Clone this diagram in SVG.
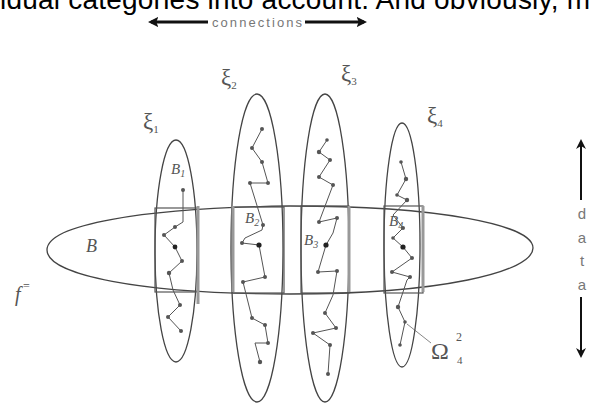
<svg xmlns="http://www.w3.org/2000/svg" width="591" height="403" viewBox="0 0 591 403">
<defs>
<marker id="ah" viewBox="0 0 10 10" refX="7" refY="5" markerWidth="3.5" markerHeight="4.5" orient="auto-start-reverse" markerUnits="strokeWidth">
<path d="M0,0 L10,5 L0,10 L2,5 Z" fill="#111"/>
</marker>
<marker id="ah2" viewBox="0 0 10 10" refX="8" refY="5" markerWidth="5" markerHeight="7" orient="auto-start-reverse" markerUnits="strokeWidth">
<path d="M0,0 L10,5 L0,10 L3,5 Z" fill="#111"/>
</marker>
</defs>
<style>
.sh{fill:none;stroke:#444;stroke-width:1.3}
.band{fill:none;stroke:#555;stroke-width:1.2}
.thick{stroke:#999;stroke-width:3}
.walk{fill:none;stroke:#555;stroke-width:1}
.d{fill:#555}
.bd{fill:#222}
.lab{font-family:"Liberation Serif",serif;font-style:italic;fill:#555}
.gr{font-family:"Liberation Serif",serif;fill:#555}
.sans{font-family:"Liberation Sans",Arial,sans-serif;fill:#777}
</style>
<rect width="591" height="403" fill="#fff"/>
<text x="0" y="9" font-family="Liberation Sans, Arial, sans-serif" font-size="28" fill="#000" textLength="590">idual categories into account. And obviously, m</text>

<g id="connectors">
<line x1="151" y1="22" x2="208" y2="22" stroke="#111" stroke-width="3" marker-start="url(#ah)"/>
<line x1="305" y1="22" x2="364" y2="22" stroke="#111" stroke-width="3" marker-end="url(#ah)"/>
<text class="sans" x="212" y="27" font-size="13" textLength="90">connections</text>
<line x1="581" y1="141" x2="581" y2="200" stroke="#111" stroke-width="2" marker-start="url(#ah2)"/>
<line x1="581" y1="297" x2="581" y2="356" stroke="#111" stroke-width="2" marker-end="url(#ah2)"/>
<g class="sans" font-size="15" text-anchor="middle" fill="#666">
<text x="582" y="219">d</text>
<text x="582" y="243">a</text>
<text x="582" y="266">t</text>
<text x="582" y="290">a</text>
</g>
<line x1="407" y1="324" x2="431" y2="343" stroke="#888" stroke-width="1"/>
</g>

<g id="nodeB">
<path class="sh" d="M47,250 C47,225 140,208 290,206 C440,206 533,225 533,248 C533,272 440,294 290,294 C140,294 47,275 47,250 Z"/>
<text class="lab" x="86" y="252" font-size="18">B</text>
</g>

<g id="xi1">
<ellipse class="sh" cx="176" cy="251" rx="21" ry="111"/>
<rect class="band" x="155" y="208" width="43" height="84"/>
<line class="thick" x1="198" y1="206" x2="198" y2="304"/>
<polyline class="walk" points="183,190 183,222 175,227 164,235 175,247 182,261 169,273 173,290 180,305 168,317 181,331"/>
<g class="d"><circle cx="183" cy="190" r="2"/><circle cx="175" cy="227" r="2"/><circle cx="164" cy="235" r="2"/><circle class="bd" cx="175" cy="247" r="2.4"/><circle cx="182" cy="261" r="2"/><circle cx="169" cy="273" r="2.2"/><circle cx="180" cy="305" r="2"/><circle cx="168" cy="317" r="2"/><circle cx="181" cy="331" r="2"/></g>
<text class="lab" x="171" y="174" font-size="15">B<tspan font-size="10" dy="3">1</tspan></text>
<text class="gr" x="143" y="129" font-size="23">ξ<tspan font-size="11" dy="4">1</tspan></text>
</g>

<g id="xi2">
<ellipse class="sh" cx="257" cy="248" rx="26" ry="154"/>
<rect class="band" x="232" y="207" width="52" height="86"/>
<line class="thick" x1="233" y1="206" x2="233" y2="292"/>
<polyline class="walk" points="262,129 252,148 262,162 268,183 250,183 263,225 262,230 245,238 242,243 259,245 265,277 243,282 252,318 265,325 268,343 255,343 260,362"/>
<g class="d"><circle cx="262" cy="129" r="2"/><circle cx="252" cy="148" r="2"/><circle cx="262" cy="162" r="2"/><circle cx="268" cy="183" r="2"/><circle cx="250" cy="183" r="2"/><circle cx="263" cy="225" r="2"/><circle cx="242" cy="243" r="2"/><circle class="bd" cx="259" cy="245" r="2.6"/><circle cx="265" cy="277" r="2"/><circle cx="243" cy="282" r="2"/><circle cx="252" cy="318" r="2"/><circle cx="265" cy="325" r="2"/><circle cx="268" cy="343" r="2"/><circle cx="260" cy="362" r="2.2"/></g>
<text class="lab" x="245" y="223" font-size="15">B<tspan font-size="10" dy="3">2</tspan></text>
<text class="gr" x="221" y="85" font-size="23">ξ<tspan font-size="11" dy="4">2</tspan></text>
</g>

<g id="xi3">
<ellipse class="sh" cx="325" cy="248" rx="24" ry="154"/>
<rect class="band" x="301" y="206" width="48" height="87"/>
<line class="thick" x1="349" y1="206" x2="349" y2="292"/>
<polyline class="walk" points="327,140 319,152 330,160 319,177 333,185 319,222 337,218 333,233 326,245 318,272 337,271 333,295 325,313 336,328 313,333 330,345 328,374"/>
<g class="d"><circle cx="327" cy="140" r="1.8"/><circle cx="319" cy="152" r="2.2"/><circle cx="330" cy="160" r="2"/><circle cx="319" cy="177" r="2"/><circle cx="333" cy="185" r="2"/><circle cx="319" cy="222" r="2"/><circle cx="337" cy="218" r="2"/><circle class="bd" cx="326" cy="245" r="2.6"/><circle cx="318" cy="272" r="2"/><circle cx="337" cy="271" r="2"/><circle cx="325" cy="313" r="2"/><circle cx="336" cy="328" r="2"/><circle cx="313" cy="333" r="2"/><circle cx="330" cy="345" r="2"/><circle cx="328" cy="374" r="2"/></g>
<text class="lab" x="304" y="245" font-size="15">B<tspan font-size="10" dy="3">3</tspan></text>
<text class="gr" x="341" y="81" font-size="23">ξ<tspan font-size="11" dy="4">3</tspan></text>
</g>

<g id="xi4">
<ellipse class="sh" cx="402" cy="245" rx="18" ry="122"/>
<rect class="band" x="384" y="206" width="39" height="87"/>
<line class="thick" x1="423" y1="206" x2="423" y2="292"/>
<polyline class="walk" points="401,162 406,179 397,195 407,200 393,215 403,228 393,238 403,247 412,258 392,272 410,277 407,280 398,307 405,322 400,345"/>
<g class="d"><circle cx="401" cy="162" r="1.8"/><circle cx="406" cy="179" r="2.2"/><circle cx="397" cy="195" r="1.8"/><circle cx="407" cy="200" r="2.2"/><circle cx="403" cy="228" r="2"/><circle cx="393" cy="238" r="1.8"/><circle class="bd" cx="403" cy="247" r="2.6"/><circle cx="412" cy="258" r="2"/><circle cx="392" cy="272" r="2"/><circle cx="410" cy="277" r="2"/><circle cx="398" cy="307" r="2.2"/><circle cx="405" cy="322" r="1.8"/><circle cx="400" cy="345" r="1.8"/></g>
<text class="lab" x="389" y="226" font-size="15">B<tspan font-size="10" dy="3">4</tspan></text>
<text class="gr" x="427" y="123" font-size="23">ξ<tspan font-size="11" dy="4">4</tspan></text>
<text class="gr" x="431" y="359" font-size="24">Ω</text>
<text class="gr" x="456" y="341" font-size="12">2</text>
<text class="gr" x="457" y="364" font-size="11">4</text>
</g>

<g id="flabel">
<text class="lab" x="15" y="301" font-size="20">f</text>
<text class="gr" x="23" y="290" font-size="12">=</text>
</g>
</svg>
